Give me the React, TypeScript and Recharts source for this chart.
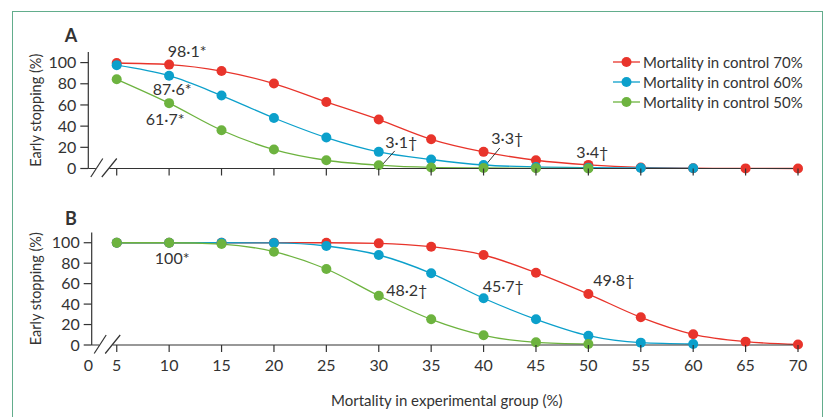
import React from 'react';
import { LineChart, Line, XAxis, YAxis, ReferenceDot, Legend, Customized } from 'recharts';

// ---------- data ----------
const mortalityExperimental = [5, 10, 15, 20, 25, 30, 35, 40, 45, 50, 55, 60, 65, 70];
const xTickLabels = [0, 5, 10, 15, 20, 25, 30, 35, 40, 45, 50, 55, 60, 65, 70];
const yTicks = [0, 20, 40, 60, 80, 100];
const seriesNames = ['Mortality in control 70%', 'Mortality in control 60%', 'Mortality in control 50%'];

// Panel A
const stopA70 = [99.6, 98.1, 92.0, 80.2, 62.8, 46.2, 27.6, 15.7, 7.8, 3.4, 1.0, 0.3, 0.1, 0.0];
const stopA60 = [97.6, 87.6, 68.9, 47.7, 29.2, 15.7, 8.5, 3.3, 1.5, 0.8, 0.5, 0.2];
const stopA50 = [84.2, 61.7, 36.1, 17.9, 7.8, 3.1, 1.0, 0.5, 0.2, 0.1];

// Panel B
const stopB70 = [100, 100, 100, 100, 100, 99.4, 96.1, 88.0, 70.7, 49.8, 27.1, 10.5, 3.3, 0.5];
const stopB60 = [100, 100, 100, 99.8, 96.8, 88.0, 70.1, 45.7, 25.1, 9.1, 2.3, 1.0];
const stopB50 = [100, 100, 98.7, 91.2, 74.3, 48.2, 25.1, 9.5, 2.6, 1.0];

// annotations: which point they belong to and their text
const notesA = [
  { key: 'c70', x: 10, text: '98·1*' },
  { key: 'c60', x: 10, text: '87·6*' },
  { key: 'c50', x: 10, text: '61·7*' },
  { key: 'c50', x: 30, text: '3·1†' },
  { key: 'c60', x: 40, text: '3·3†' },
  { key: 'c70', x: 50, text: '3·4†' },
];
const notesB = [
  { key: 'c50', x: 10, text: '100*' },
  { key: 'c50', x: 30, text: '48·2†' },
  { key: 'c60', x: 40, text: '45·7†' },
  { key: 'c70', x: 50, text: '49·8†' },
];

// ---------- styles / layout ----------
const COLORS = { c70: '#e8342b', c60: '#0ca0cb', c50: '#6db33f' };
const INK = '#333333';
const FONT = 'Lato, "Open Sans", sans-serif';

// pixel offsets of annotation text from their point
const noteOffsets: Record<string, { dx: number; dy: number; leader?: number[] }> = {
  '98·1*': { dx: 18, dy: -13.6 },
  '87·6*': { dx: 3, dy: 13.6 },
  '61·7*': { dx: -4, dy: 16 },
  '3·1†': { dx: 22.5, dy: -22.3, leader: [4, -1, 16, -14.3] },
  '3·3†': { dx: 23.7, dy: -26.5, leader: [3, -1, 16.2, -17] },
  '3·4†': { dx: 4, dy: -12 },
  '100*': { dx: 3, dy: 15.3 },
  '48·2†': { dx: 28, dy: -5.7 },
  '45·7†': { dx: 19.7, dy: -11.6 },
  '49·8†': { dx: 25.4, dy: -13.3 },
};

function buildRows(a: number[], b: number[], c: number[]) {
  return mortalityExperimental.map((x, i) => ({ x, c70: a[i], c60: b[i], c50: c[i] }));
}
const dataA = buildRows(stopA70, stopA60, stopA50);
const dataB = buildRows(stopB70, stopB60, stopB50);

function XTick(props: any) {
  const { x, y, payload, showLabels } = props;
  const v = payload.value;
  if (v < 5) {
    return (
      <g>
        <rect x={x + 7.5} y={y - 2} width={13.5} height={4} fill="#fff" />
        <line x1={x + 2.5} y1={y + 8.5} x2={x + 14.5} y2={y - 10} stroke={INK} strokeWidth={1.2} />
        <line x1={x + 13.5} y1={y + 8.5} x2={x + 28.5} y2={y - 10} stroke={INK} strokeWidth={1.2} />
        {showLabels && (
          <text x={x - 3.4} y={y + 25.5} textAnchor="middle" fontSize={16} fill={INK}>
            {xTickLabels[0]}
          </text>
        )}
      </g>
    );
  }
  return (
    <g>
      <line x1={x} y1={y} x2={x} y2={y + 7} stroke={INK} strokeWidth={1.2} />
      {showLabels && (
        <text x={x} y={y + 25.5} textAnchor="middle" fontSize={16} fill={INK}>
          {v}
        </text>
      )}
    </g>
  );
}

function NoteShape(props: any) {
  const { cx, cy, text } = props;
  const o = noteOffsets[text];
  return (
    <g>
      {o.leader && (
        <line
          x1={cx + o.leader[0]}
          y1={cy + o.leader[1]}
          x2={cx + o.leader[2]}
          y2={cy + o.leader[3]}
          stroke={INK}
          strokeWidth={1}
        />
      )}
      <text x={cx + o.dx} y={cy + o.dy + 5.5} textAnchor="middle" fontSize={16} fill={INK}>
        {text}
      </text>
    </g>
  );
}

function LegendContent(props: any) {
  const items = [...(props.payload || [])].sort(
    (a: any, b: any) => seriesNames.indexOf(a.value) - seriesNames.indexOf(b.value)
  );
  return (
    <div style={{ fontFamily: FONT, fontSize: 15, color: INK }}>
      {items.map((p: any) => (
        <div key={p.value} style={{ display: 'flex', alignItems: 'center', height: 20 }}>
          <svg width={31} height={20} style={{ display: 'block' }}>
            <line x1={1} y1={10} x2={28} y2={10} stroke={p.color} strokeWidth={1.3} />
            <circle cx={14.5} cy={10} r={5} fill={p.color} />
          </svg>
          <span style={{ whiteSpace: 'nowrap' }}>{p.value}</span>
        </div>
      ))}
    </div>
  );
}

type PanelProps = {
  data: any[];
  notes: { key: string; x: number; text: string }[];
  height: number;
  margin: { top: number; right: number; bottom: number; left: number };
  xMin: number;
  xAxisHeight: number;
  letter: string;
  letterY: number;
  showXLabels: boolean;
  showLegend: boolean;
  xTitle?: string;
};

function Panel(p: PanelProps) {
  const ticks = xTickLabels.map((t) => (t === 0 ? p.xMin : t));
  return (
    <LineChart width={827} height={p.height} data={p.data} margin={p.margin}>
      <XAxis
        dataKey="x"
        type="number"
        domain={[p.xMin, 70]}
        ticks={ticks}
        interval={0}
        tickSize={0}
        tickMargin={0}
        tickLine={false}
        axisLine={{ stroke: INK, strokeWidth: 1.2 }}
        height={p.xAxisHeight}
        tick={(tp: any) => <XTick {...tp} showLabels={p.showXLabels} />}
        label={
          p.xTitle
            ? {
                content: ({ viewBox }: any) => (
                  <text
                    x={viewBox.x + viewBox.width / 2 + 2}
                    y={viewBox.y + viewBox.height + 1}
                    textAnchor="middle"
                    fontSize={15}
                    fill={INK}
                  >
                    {p.xTitle}
                  </text>
                ),
              }
            : undefined
        }
      />
      <YAxis
        type="number"
        domain={[0, 110]}
        ticks={yTicks}
        interval={0}
        width={50}
        tickSize={8}
        tickMargin={4}
        tick={{ fontSize: 16, fill: INK }}
        tickLine={{ stroke: INK, strokeWidth: 1.2 }}
        axisLine={{ stroke: INK, strokeWidth: 1.2 }}
        label={{
          content: ({ viewBox }: any) => (
            <text
              transform={`translate(35, ${viewBox.y + viewBox.height / 2}) rotate(-90)`}
              textAnchor="middle"
              dominantBaseline="central"
              fontSize={14.5}
              fill={INK}
            >
              Early stopping (%)
            </text>
          ),
        }}
      />
      <Line
        dataKey="c70"
        name={seriesNames[0]}
        type="monotone"
        stroke={COLORS.c70}
        strokeWidth={1.3}
        dot={{ r: 5, fill: COLORS.c70, stroke: 'none' }}
        activeDot={false}
        isAnimationActive={false}
      />
      <Line
        dataKey="c60"
        name={seriesNames[1]}
        type="monotone"
        stroke={COLORS.c60}
        strokeWidth={1.3}
        dot={{ r: 5, fill: COLORS.c60, stroke: 'none' }}
        activeDot={false}
        isAnimationActive={false}
      />
      <Line
        dataKey="c50"
        name={seriesNames[2]}
        type="monotone"
        stroke={COLORS.c50}
        strokeWidth={1.3}
        dot={{ r: 5, fill: COLORS.c50, stroke: 'none' }}
        activeDot={false}
        isAnimationActive={false}
      />
      {p.notes.map((n) => {
        const row = p.data.find((r) => r.x === n.x);
        return (
          <ReferenceDot
            key={n.text}
            x={n.x}
            y={row[n.key]}
            r={1}
            ifOverflow="visible"
            shape={(sp: any) => <NoteShape {...sp} text={n.text} />}
          />
        );
      })}
      <Customized
        component={() => (
          <text x={71} y={p.letterY} textAnchor="middle" fontSize={18} fontWeight={700} fill={INK}>
            {p.letter}
          </text>
        )}
      />
      {p.showLegend && (
        <Legend
          layout="horizontal"
          verticalAlign="middle"
          align="center"
          content={<LegendContent />}
          wrapperStyle={{ left: 612, top: 51.7, width: 215, height: 62 }}
        />
      )}
    </LineChart>
  );
}

export default function App() {
  return (
    <div
      style={{
        position: 'absolute',
        left: 0,
        top: 0,
        width: 827,
        height: 417,
        overflow: 'hidden',
        background: '#fff',
        fontFamily: FONT,
      }}
    >
      <div
        style={{
          position: 'absolute',
          left: 11.5,
          top: 10.5,
          width: 809,
          height: 440,
          borderTop: '1.5px solid #62ad8c',
          borderLeft: '1.5px solid #62ad8c',
          borderRight: '1.5px solid #62ad8c',
        }}
      />
      <div style={{ position: 'absolute', left: 0, top: 0 }}>
        <Panel
          data={dataA}
          notes={notesA}
          height={200}
          margin={{ top: 52, right: 29, bottom: 1.5, left: 38.3 }}
          xMin={2.29}
          xAxisHeight={30}
          letter="A"
          letterY={42}
          showXLabels={false}
          showLegend={true}
        />
      </div>
      <div style={{ position: 'absolute', left: 0, top: 190 }}>
        <Panel
          data={dataB}
          notes={notesB}
          height={227}
          margin={{ top: 42.5, right: 29, bottom: 12, left: 41.7 }}
          xMin={2.61}
          xAxisHeight={60}
          letter="B"
          letterY={34.5}
          showXLabels={true}
          showLegend={false}
          xTitle="Mortality in experimental group (%)"
        />
      </div>
    </div>
  );
}
